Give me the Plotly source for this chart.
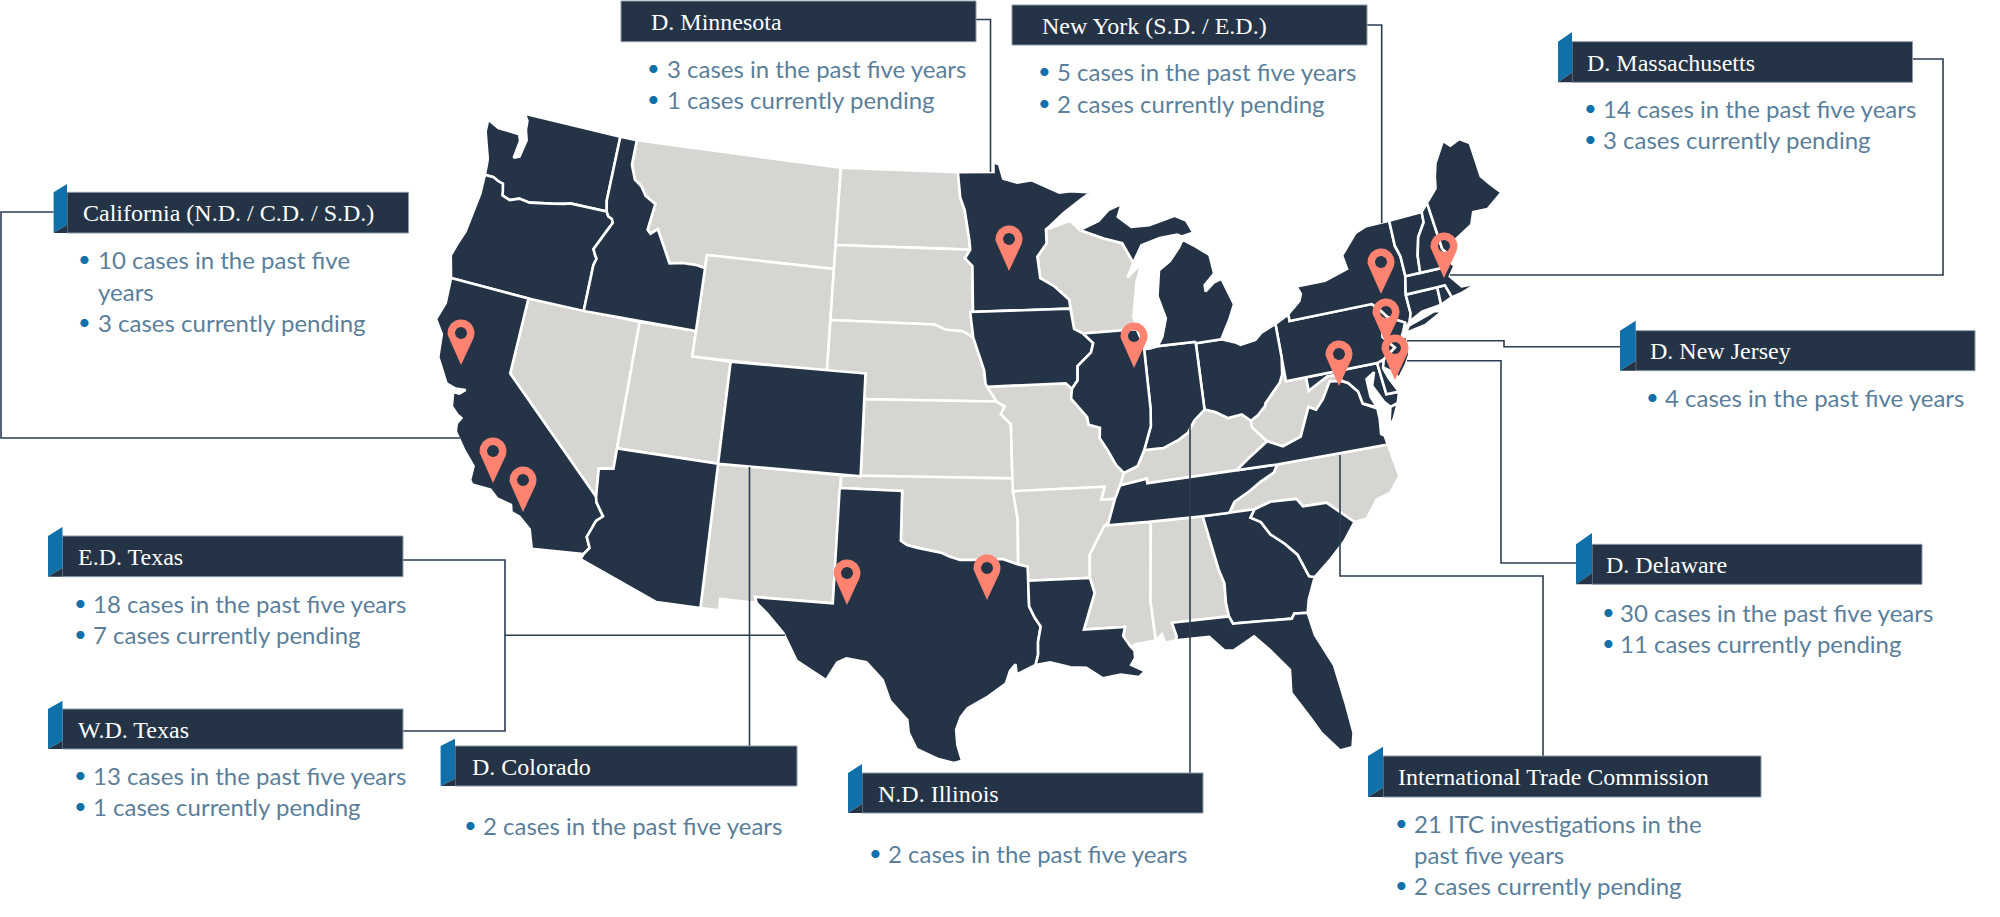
import math
import plotly.graph_objects as go

# ---- state outlines (lon, lat), read by geography ----
WA = [(-117.03,49),(-122.76,49),(-122.5,48.75),(-122.45,48.4),(-122.25,48.0),(-122.35,47.6),(-122.4,47.3),(-122.7,47.2),(-122.65,47.6),(-122.6,47.9),(-122.75,48.15),(-123.2,48.15),(-124.0,48.17),(-124.7,48.38),(-124.65,47.9),(-124.35,47.35),(-124.1,46.9),(-124.05,46.65),(-124.0,46.25),(-123.5,46.25),(-123.2,46.15),(-122.9,46.1),(-122.8,45.85),(-122.75,45.65),(-122.3,45.55),(-121.8,45.7),(-121.2,45.65),(-120.6,45.73),(-120.0,45.82),(-119.3,45.93),(-119.0,46.0),(-116.92,46.0),(-117.04,46.42)]
OR = [(-124.0,46.25),(-123.5,46.25),(-123.2,46.15),(-122.9,46.1),(-122.8,45.85),(-122.75,45.65),(-122.3,45.55),(-121.8,45.7),(-121.2,45.65),(-120.6,45.73),(-120.0,45.82),(-119.3,45.93),(-119.0,46.0),(-116.92,46.0),(-116.78,45.83),(-116.55,45.75),(-116.46,45.6),(-116.67,45.3),(-116.85,45.0),(-117.2,44.45),(-117.05,44.23),(-116.93,44.1),(-117.03,43.83),(-117.03,42.0),(-120,42),(-124.2,42.0),(-124.55,42.84),(-124.4,43.3),(-124.15,43.9),(-124.07,44.6),(-123.95,45.5)]
CA = [(-124.2,42),(-120,42),(-120,39),(-114.63,35.0),(-114.57,34.8),(-114.14,34.3),(-114.43,34.08),(-114.72,33.4),(-114.5,33.0),(-114.72,32.72),(-117.12,32.53),(-117.25,32.85),(-117.4,33.25),(-118.0,33.65),(-118.4,33.75),(-118.5,34.03),(-119.2,34.15),(-119.6,34.42),(-120.5,34.45),(-120.65,34.6),(-120.65,35.15),(-121.3,35.7),(-121.9,36.3),(-121.95,36.6),(-121.8,36.85),(-122.05,36.95),(-122.4,37.2),(-122.52,37.75),(-122.2,37.75),(-121.95,37.95),(-122.45,37.9),(-122.95,38.0),(-123.7,38.9),(-123.85,39.8),(-124.35,40.3),(-124.1,41.0)]
NV = [(-120,42),(-114.04,42),(-114.05,37),(-114.05,36.2),(-114.75,36.1),(-114.63,35.0),(-120,39)]
AZ = [(-114.05,37),(-109.05,37),(-109.05,31.33),(-111.07,31.33),(-114.82,32.5),(-114.72,32.72),(-114.5,33.0),(-114.72,33.4),(-114.43,34.08),(-114.14,34.3),(-114.57,34.8),(-114.63,35.0),(-114.75,36.1),(-114.05,36.2)]
UT = [(-114.04,42),(-111.05,42),(-111.05,41),(-109.05,41),(-109.05,37),(-114.05,37)]
ID = [(-117.03,49),(-116.05,49),(-116.05,48.0),(-115.72,47.45),(-115.3,47.25),(-114.95,46.9),(-114.33,46.65),(-114.5,45.6),(-114.3,45.47),(-113.95,45.7),(-113.45,45.05),(-113.0,44.45),(-112.3,44.55),(-111.5,44.55),(-111.05,44.48),(-111.05,42),(-117.03,42),(-117.03,43.83),(-116.93,44.1),(-117.05,44.23),(-117.2,44.45),(-116.85,45.0),(-116.67,45.3),(-116.46,45.6),(-116.55,45.75),(-116.78,45.83),(-116.92,46.0),(-117.04,46.42)]
MT = [(-116.05,49),(-104.05,49),(-104.05,45),(-111.05,45),(-111.05,44.48),(-111.5,44.55),(-112.3,44.55),(-113.0,44.45),(-113.45,45.05),(-113.95,45.7),(-114.3,45.47),(-114.5,45.6),(-114.33,46.65),(-114.95,46.9),(-115.3,47.25),(-115.72,47.45),(-116.05,48.0)]
WY = [(-111.05,45),(-104.05,45),(-104.05,41),(-111.05,41)]
CO = [(-109.05,41),(-102.05,41),(-102.05,37),(-109.05,37)]
NM = [(-109.05,37),(-103.0,37),(-103.05,32),(-106.62,32),(-106.53,31.78),(-108.2,31.78),(-108.2,31.33),(-109.05,31.33)]
ND = [(-104.05,49),(-97.23,49),(-97.1,48.0),(-96.85,47.5),(-96.6,46.3),(-96.56,45.94),(-104.05,45.94)]
SD = [(-104.05,45.94),(-96.56,45.94),(-96.85,45.6),(-96.45,45.3),(-96.45,43.5),(-96.6,43.5),(-96.45,42.5),(-97.0,42.75),(-97.9,42.8),(-98.5,43.0),(-104.05,43)]
NE = [(-104.05,43),(-98.5,43),(-97.9,42.8),(-97,42.75),(-96.45,42.5),(-96.1,41.7),(-95.9,41.2),(-95.85,40.7),(-95.3,40.0),(-102.05,40),(-102.05,41),(-104.05,41)]
KS = [(-102.05,40),(-95.3,40),(-94.9,39.8),(-95.1,39.5),(-94.61,39.1),(-94.62,37),(-102.05,37)]
OK = [(-103,37),(-94.62,37),(-94.43,35.4),(-94.48,33.64),(-95.2,33.87),(-96.0,33.85),(-96.6,33.85),(-97.2,33.85),(-97.7,33.98),(-98.1,34.13),(-99.2,34.3),(-99.7,34.4),(-100,34.56),(-100,36.5),(-103,36.5)]
TX = [(-103.04,36.5),(-100,36.5),(-100,34.56),(-99.7,34.4),(-99.2,34.3),(-98.1,34.13),(-97.7,33.98),(-97.2,33.85),(-96.6,33.85),(-96,33.85),(-95.2,33.87),(-94.48,33.64),(-94.04,33.55),(-94.04,33.0),(-94.04,32),(-93.8,31.55),(-93.55,31.2),(-93.7,30.6),(-93.72,30.1),(-93.85,29.7),(-94.7,29.35),(-94.75,29.75),(-95.0,29.5),(-95.2,29.0),(-96.0,28.5),(-96.9,28.05),(-97.2,27.7),(-97.4,27.2),(-97.35,26.6),(-97.15,25.97),(-97.5,25.88),(-98.2,26.05),(-99.1,26.42),(-99.45,27.05),(-99.52,27.55),(-100.3,28.3),(-100.65,29.1),(-101.4,29.77),(-102.3,29.88),(-102.7,29.7),(-103.15,28.98),(-104.5,29.65),(-105.2,30.7),(-106.0,31.4),(-106.53,31.78),(-106.62,32),(-103.05,32)]
MN = [(-97.23,49),(-95.15,49),(-95.15,49.38),(-94.82,49.3),(-94.6,48.72),(-93.8,48.55),(-92.95,48.62),(-92.0,48.3),(-91.4,48.07),(-90.75,48.1),(-89.6,48.0),(-90.3,47.7),(-91.25,47.25),(-92.1,46.75),(-92.29,46.66),(-92.3,46.1),(-92.85,45.6),(-92.75,44.75),(-92.0,44.4),(-91.25,43.85),(-91.22,43.5),(-96.45,43.5),(-96.45,45.3),(-96.85,45.6),(-96.56,45.94),(-96.6,46.3),(-96.85,47.5),(-97.1,48)]
IA = [(-96.6,43.5),(-91.22,43.5),(-91.1,42.7),(-90.64,42.5),(-90.15,42.1),(-90.3,41.75),(-91.05,41.25),(-91.1,40.7),(-91.42,40.38),(-91.73,40.61),(-95.77,40.58),(-95.85,40.7),(-95.9,41.2),(-96.1,41.7),(-96.45,42.5)]
MO = [(-95.77,40.58),(-91.73,40.61),(-91.42,40.38),(-91.5,40.0),(-90.75,39.25),(-90.7,38.95),(-90.15,38.8),(-90.2,38.4),(-89.85,37.9),(-89.5,37.3),(-89.15,36.98),(-89.4,36.5),(-89.7,36.0),(-90.37,36.0),(-90.15,36.5),(-94.62,36.5),(-94.62,37),(-94.61,39.1),(-95.1,39.5),(-94.9,39.8),(-95.3,40)]
AR = [(-94.62,36.5),(-90.15,36.5),(-90.37,36),(-89.7,36),(-90.1,35.1),(-90.6,34.6),(-91.1,33.9),(-91.17,33.0),(-94.04,33.0),(-94.04,33.55),(-94.48,33.64),(-94.43,35.4)]
LA = [(-94.04,33),(-91.17,33),(-91.0,32.4),(-91.6,31.0),(-89.73,31.0),(-89.85,30.65),(-89.55,30.2),(-89.4,30.05),(-89.4,29.75),(-89.6,29.5),(-89.0,29.2),(-89.3,29.0),(-90.1,29.15),(-90.9,29.05),(-91.6,29.5),(-92.3,29.55),(-93.2,29.78),(-93.85,29.7),(-93.72,30.1),(-93.7,30.6),(-93.55,31.2),(-93.8,31.55),(-94.04,32)]
MS = [(-91.17,33),(-91.1,33.9),(-90.6,34.6),(-90.3,35.0),(-88.2,35.0),(-88.1,34.9),(-88.47,31.9),(-88.4,30.37),(-89.3,30.3),(-89.55,30.2),(-89.85,30.65),(-89.73,31),(-91.6,31),(-91,32.4)]
AL = [(-88.2,35),(-85.6,35),(-85.18,32.87),(-85.0,32.3),(-85.05,31.55),(-85.0,31.0),(-87.6,31.0),(-87.45,30.45),(-87.5,30.3),(-88.0,30.25),(-88.1,30.6),(-88.4,30.37),(-88.47,31.9),(-88.1,34.9)]
GA = [(-85.6,35),(-84.32,35),(-83.1,35),(-83.35,34.7),(-82.9,34.47),(-82.55,33.95),(-81.95,33.5),(-81.45,33.0),(-81.1,32.1),(-80.85,32.03),(-81.3,31.2),(-81.45,30.7),(-82.05,30.75),(-82.2,30.57),(-84.86,30.7),(-85.0,31.0),(-85.05,31.55),(-85,32.3),(-85.18,32.87)]
FL = [(-87.6,31),(-85,31),(-84.86,30.7),(-82.2,30.57),(-82.05,30.75),(-81.45,30.7),(-81.3,29.8),(-80.7,28.5),(-80.5,26.9),(-80.4,25.75),(-80.55,25.2),(-81.1,25.15),(-81.75,25.95),(-82.1,26.6),(-82.75,27.7),(-82.65,28.6),(-83.4,29.5),(-84.0,30.1),(-85.0,29.65),(-85.4,29.7),(-86.0,30.3),(-87.5,30.3),(-87.45,30.45)]
SC = [(-83.1,35),(-82.3,35.2),(-81.05,35.15),(-80.8,34.82),(-79.67,34.8),(-78.55,33.86),(-79.2,33.2),(-80.0,32.6),(-80.85,32.03),(-81.1,32.1),(-81.45,33),(-81.95,33.5),(-82.55,33.95),(-82.9,34.47),(-83.35,34.7)]
NC = [(-84.32,35),(-83.1,35),(-82.3,35.2),(-81.05,35.15),(-80.8,34.82),(-79.67,34.8),(-78.55,33.86),(-77.95,33.9),(-77.3,34.55),(-76.6,34.7),(-76.0,35.25),(-76.2,36.55),(-81.68,36.59),(-81.9,36.3),(-82.6,36.03),(-83.2,35.73),(-84.0,35.4)]
TN = [(-90.3,35),(-88.2,35),(-85.6,35),(-84.32,35),(-84.0,35.4),(-83.2,35.73),(-82.6,36.03),(-81.9,36.3),(-81.68,36.59),(-83.68,36.6),(-88.07,36.5),(-88.07,36.68),(-89.4,36.5),(-89.7,36),(-90.1,35.1)]
KY = [(-89.4,36.5),(-88.07,36.68),(-88.07,36.5),(-83.68,36.6),(-82.9,37.05),(-81.97,37.54),(-82.6,38.17),(-82.6,38.42),(-83.0,38.72),(-83.7,38.65),(-84.3,38.95),(-84.82,39.1),(-85.4,38.73),(-85.8,38.28),(-86.3,38.05),(-87.1,37.8),(-88.05,37.8),(-88.45,37.2),(-89.15,36.98)]
VA = [(-83.68,36.6),(-81.68,36.59),(-76.2,36.55),(-76.25,36.9),(-76.4,37.0),(-76.3,37.6),(-76.3,38.0),(-76.95,38.3),(-77.05,38.8),(-77.45,39.2),(-77.72,39.32),(-78.35,39.4),(-78.87,38.77),(-79.3,38.42),(-79.65,38.58),(-80.3,37.5),(-81.25,37.25),(-81.97,37.54),(-82.9,37.05)]
VA_SHORE = [(-75.95,37.15),(-75.65,37.95),(-75.25,38.03),(-75.6,37.5)]
WV = [(-81.97,37.54),(-81.25,37.25),(-80.3,37.5),(-79.65,38.58),(-79.3,38.42),(-78.87,38.77),(-78.35,39.4),(-77.72,39.32),(-77.83,39.6),(-78.4,39.62),(-79.48,39.2),(-79.48,39.72),(-80.52,39.72),(-80.52,40.64),(-80.65,40.0),(-80.85,39.7),(-81.75,39.0),(-81.75,38.93),(-82.2,38.6),(-82.6,38.42),(-82.6,38.17)]
MD = [(-79.48,39.72),(-75.79,39.72),(-75.7,38.46),(-75.05,38.45),(-75.25,38.03),(-75.65,37.95),(-75.9,38.2),(-76.3,38.9),(-76.05,39.4),(-76.5,39.2),(-76.5,38.5),(-76.3,38.05),(-76.95,38.3),(-77.05,38.8),(-77.45,39.2),(-77.72,39.32),(-77.83,39.6),(-78.4,39.62),(-79.48,39.2)]
DE = [(-75.79,39.72),(-75.42,39.8),(-75.55,39.45),(-75.4,39.05),(-75.05,38.45),(-75.7,38.46)]
PA = [(-80.52,41.98),(-79.76,42.27),(-79.76,42.0),(-75.35,42.0),(-75.05,41.75),(-74.7,41.36),(-75.13,40.98),(-75.2,40.65),(-74.72,40.15),(-75.42,39.8),(-75.79,39.72),(-80.52,39.72)]
NY = [(-79.76,42.27),(-79.05,42.7),(-78.9,42.95),(-79.05,43.27),(-77.5,43.27),(-76.2,43.55),(-76.3,44.1),(-75.3,44.85),(-74.7,45.0),(-73.35,45.0),(-73.4,44.0),(-73.25,43.55),(-73.27,42.75),(-73.5,42.05),(-73.5,41.3),(-73.65,41.0),(-73.9,40.8),(-74.0,40.7),(-73.9,41.0),(-74.7,41.36),(-75.05,41.75),(-75.35,42),(-79.76,42.0)]
LONG_ISLAND = [(-74.0,40.6),(-73.75,40.85),(-72.3,41.15),(-71.87,41.07),(-72.9,40.72)]
NJ = [(-74.7,41.36),(-73.9,41.0),(-74.1,40.7),(-74.25,40.5),(-74.0,40.45),(-74.1,39.75),(-74.4,39.4),(-74.9,38.95),(-75.05,39.2),(-75.55,39.5),(-75.42,39.8),(-74.72,40.15),(-75.2,40.65),(-75.13,40.98)]
CT = [(-73.5,42.05),(-71.8,42.02),(-71.85,41.32),(-72.9,41.25),(-73.65,41.0),(-73.5,41.3)]
RI = [(-71.8,42.02),(-71.38,42.02),(-71.2,41.5),(-71.85,41.32)]
MA = [(-73.5,42.05),(-73.27,42.75),(-72.46,42.73),(-71.3,42.7),(-70.82,42.87),(-70.6,42.65),(-71.0,42.3),(-70.65,41.95),(-70.55,41.8),(-70.1,41.77),(-70.0,42.05),(-69.95,41.7),(-70.65,41.55),(-71.12,41.5),(-71.2,41.5),(-71.38,42.02),(-71.8,42.02)]
VT = [(-73.35,45),(-71.5,45.01),(-71.55,44.6),(-72.05,44.1),(-72.35,43.4),(-72.46,42.73),(-73.27,42.75),(-73.25,43.55),(-73.4,44.0)]
NH = [(-71.5,45.01),(-71.08,45.3),(-70.98,43.4),(-70.7,43.08),(-70.82,42.87),(-71.3,42.7),(-72.46,42.73),(-72.35,43.4),(-72.05,44.1),(-71.55,44.6)]
ME = [(-71.08,45.3),(-70.4,45.75),(-70.25,46.2),(-70.0,46.7),(-69.23,47.46),(-68.9,47.2),(-68.3,47.35),(-67.8,47.07),(-67.8,45.7),(-67.45,45.3),(-67.0,44.85),(-68.0,44.4),(-68.8,44.45),(-69.1,44.0),(-70.2,43.6),(-70.7,43.08),(-70.98,43.4)]
OH = [(-84.82,39.1),(-84.3,38.95),(-83.7,38.65),(-83,38.72),(-82.6,38.42),(-82.2,38.6),(-81.75,38.93),(-81.75,39.0),(-80.85,39.7),(-80.65,40.0),(-80.52,40.64),(-80.52,41.98),(-81.3,41.75),(-81.7,41.5),(-82.5,41.4),(-82.7,41.5),(-83.45,41.72),(-84.8,41.7)]
IN = [(-84.82,39.1),(-84.8,41.7),(-84.8,41.76),(-86.8,41.76),(-87.2,41.7),(-87.52,41.7),(-87.52,39.35),(-87.6,38.7),(-88.05,37.8),(-87.1,37.8),(-86.3,38.05),(-85.8,38.28),(-85.4,38.73)]
IL = [(-90.64,42.5),(-87.8,42.5),(-87.6,42.05),(-87.52,41.7),(-87.52,39.35),(-87.6,38.7),(-88.05,37.8),(-88.45,37.2),(-89.15,36.98),(-89.5,37.3),(-89.85,37.9),(-90.2,38.4),(-90.15,38.8),(-90.7,38.95),(-90.75,39.25),(-91.5,40.0),(-91.42,40.38),(-91.1,40.7),(-91.05,41.25),(-90.3,41.75),(-90.15,42.1)]
WI = [(-92.29,46.66),(-92.0,46.7),(-90.9,46.95),(-90.4,46.55),(-89.1,46.15),(-88.1,45.9),(-87.6,45.1),(-88.0,44.55),(-87.4,44.9),(-87.05,45.25),(-87.55,44.3),(-87.9,43.0),(-87.8,42.5),(-90.64,42.5),(-91.1,42.7),(-91.22,43.5),(-91.25,43.85),(-92,44.4),(-92.75,44.75),(-92.85,45.6),(-92.3,46.1)]
MI_LOWER = [(-84.8,41.76),(-86.8,41.76),(-86.5,42.1),(-86.2,42.8),(-86.5,43.7),(-86.25,44.7),(-85.6,45.0),(-85.0,45.5),(-84.75,45.78),(-84.1,45.45),(-83.4,45.05),(-83.3,44.3),(-83.9,43.9),(-83.9,43.65),(-83.4,43.95),(-82.95,44.05),(-82.5,43.0),(-82.9,42.4),(-83.15,42.1),(-83.45,41.72),(-84.8,41.7)]
MI_UPPER = [(-90.4,46.55),(-89.1,46.15),(-88.1,45.9),(-87.6,45.1),(-87.05,45.75),(-86.0,45.95),(-85.0,46.0),(-84.75,45.9),(-84.1,46.0),(-84.4,46.5),(-85.0,46.75),(-86.5,46.5),(-87.5,46.5),(-88.2,46.95),(-87.9,47.45),(-88.7,47.25),(-89.3,46.85)]

DARK_STATES = [WA,OR,CA,AZ,ID,CO,TX,MN,IA,LA,GA,FL,SC,TN,VA,VA_SHORE,MD,DE,PA,NY,LONG_ISLAND,NJ,CT,RI,MA,VT,NH,ME,OH,IN,IL,MI_LOWER,MI_UPPER]
LIGHT_STATES = [NV,UT,MT,WY,NM,ND,SD,NE,KS,OK,MO,AR,MS,AL,NC,KY,WV,WI]

# ---- callouts ----
BOX_TITLES = ["California (N.D. / C.D. / S.D.)","D. Minnesota","New York (S.D. / E.D.)","D. Massachusetts","D. New Jersey","D. Delaware","International Trade Commission","E.D. Texas","W.D. Texas","D. Colorado","N.D. Illinois"]
BOX_LINES = [
    ["10 cases in the past five", "years", "3 cases currently pending"],
    ["3 cases in the past five years", "1 cases currently pending"],
    ["5 cases in the past five years", "2 cases currently pending"],
    ["14 cases in the past five years", "3 cases currently pending"],
    ["4 cases in the past five years"],
    ["30 cases in the past five years", "11 cases currently pending"],
    ["21 ITC investigations in the", "past five years", "2 cases currently pending"],
    ["18 cases in the past five years", "7 cases currently pending"],
    ["13 cases in the past five years", "1 cases currently pending"],
    ["2 cases in the past five years"],
    ["2 cases in the past five years"],
]
BOX_BULLETED = [[1,0,1],[1,1],[1,1],[1,1],[1],[1,1],[1,0,1],[1,1],[1,1],[1],[1]]
BOX_LEFT = [67,621,1012,1572,1635.7,1592,1383,62.5,62.5,455,862]
BOX_RIGHT = [408.5,976,1367,1912.5,1975,1922,1761,403,403,797,1203]
BOX_TOP = [192.3,1,5,41.7,330.7,544.3,756,536,709,746,773]
BOX_BOTTOM = [233,41.7,45,82.3,370.7,584.3,797,576.7,749,786,813]
TAB_LEFT = [53.6,None,None,1558,1620,1576,1368,48,48,440.6,848]
TAB_TOP = [184,None,None,32,320.7,533,746.7,527,700.7,738.7,764]
TITLE_X = [83.5,652,1042.8,1588,1651,1607,1399,78.6,78.6,473,879]
BULLET_X = [83.5,652,1043,1589,1651,1607,1400,79.5,79.5,469,874.5]
TEXT_X = [99,667.8,1057.5,1603.6,1666,1621,1415,94,94,484,889]
TEXT_Y = [[260,292,323],[69,100],[72.7,104],[109,140],[398],[613,644],[824,855.7,886.7],[604,635],[776.7,807.7],[826.7],[854]]

CONNECTORS = [
    [(53.6,212),(1,212),(1,438),(460,438)],
    [(976,19.5),(990.5,19.5),(990.5,172)],
    [(1367,25),(1381.7,25),(1381.7,223)],
    [(1912,59),(1943,59),(1943,275),(1450,275)],
    [(1620,346.7),(1504,346.7),(1504,340.7),(1407,340.7)],
    [(1576,563),(1501,563),(1501,360.7),(1407,360.7)],
    [(1543,756),(1543,576),(1340,576),(1340,455)],
    [(403,560),(505,560),(505,731),(403,731)],
    [(505,635.3),(785,635.3)],
    [(749.5,746),(749.5,467)],
    [(1190,773),(1190,425)],
]

PIN_TIP_X = [461,493,523,847,987,1009,1134,1381,1386,1395,1339,1444]
PIN_TIP_Y = [365,483,512,605,600,271,368,294,344,380,386,278]

DARK = "#243446"
LIGHT = "#d6d5d1"
TAB_BLUE = "#0f70aa"
BULLET_BLUE = "#0f70aa"
BODY = "#5b7f9b"
PIN = "#ff8370"
LINE = "#2b3d50"

# Albers equal-area conic, then fitted to the page
def project(lon, lat):
    p1, p2, p0 = map(math.radians, (29.5, 45.5, 37.5))
    n = (math.sin(p1) + math.sin(p2)) / 2
    c = math.cos(p1) ** 2 + 2 * n * math.sin(p1)
    rho0 = math.sqrt(c - 2 * n * math.sin(p0)) / n
    rho = math.sqrt(c - 2 * n * math.sin(math.radians(lat))) / n
    th = n * math.radians(lon + 96)
    X, Y = rho * math.sin(th), rho0 - rho * math.cos(th)
    return 984 + 1480 * X - 25 * Y, 466 - 1460 * Y - 16 * X

fig = go.Figure()

def add_state(poly, color):
    pts = [project(*p) for p in poly + poly[:1]]
    fig.add_trace(go.Scatter(x=[p[0] for p in pts], y=[p[1] for p in pts], mode="lines",
                             fill="toself", fillcolor=color,
                             line=dict(color="white", width=2.6), hoverinfo="skip", showlegend=False))

for poly in LIGHT_STATES:
    add_state(poly, LIGHT)
for poly in DARK_STATES:
    add_state(poly, DARK)

# connectors
cx, cy = [], []
for path in CONNECTORS:
    cx += [p[0] for p in path] + [None]
    cy += [p[1] for p in path] + [None]
fig.add_trace(go.Scatter(x=cx, y=cy, mode="lines", line=dict(color=LINE, width=1.6),
                         hoverinfo="skip", showlegend=False))

# pins: teardrop with a real hole
px, py = [], []
R, D, HOLE = 13.5, 32, 6
alpha = math.acos(R / D)
for tx, ty in zip(PIN_TIP_X, PIN_TIP_Y):
    cxp, cyp = tx, ty - D
    start = math.pi / 2 + alpha
    sweep = 2 * math.pi - 2 * alpha
    outer = [(tx, ty)]
    for i in range(41):
        a = start + sweep * i / 40
        outer.append((cxp + R * math.cos(a), cyp + R * math.sin(a)))
    outer.append((tx, ty))
    inner = [(cxp + HOLE * math.cos(-2 * math.pi * i / 24), cyp + HOLE * math.sin(-2 * math.pi * i / 24)) for i in range(25)]
    px += [p[0] for p in outer] + [None] + [p[0] for p in inner] + [None]
    py += [p[1] for p in outer] + [None] + [p[1] for p in inner] + [None]
fig.add_trace(go.Scatter(x=px, y=py, mode="lines", fill="toself", fillcolor=PIN,
                         line=dict(width=0, color=PIN), hoverinfo="skip", showlegend=False))

# boxes
shapes, annos = [], []
for i, title in enumerate(BOX_TITLES):
    shapes.append(dict(type="rect", xref="x", yref="y", x0=BOX_LEFT[i], x1=BOX_RIGHT[i],
                       y0=BOX_TOP[i], y1=BOX_BOTTOM[i], fillcolor=DARK, line=dict(width=1, color="#8b98a6")))
    if TAB_LEFT[i] is not None:
        l, r, t, b = TAB_LEFT[i], BOX_LEFT[i], BOX_TOP[i], BOX_BOTTOM[i]
        tt = TAB_TOP[i]
        shapes.append(dict(type="path", xref="x", yref="y",
                           path=f"M{l},{t} L{r},{tt} L{r},{b - (t - tt)} L{l},{b} Z",
                           fillcolor=TAB_BLUE, line=dict(width=0)))
        shapes.append(dict(type="path", xref="x", yref="y",
                           path=f"M{l},{b} L{r},{b - (t - tt)} L{r},{b} Z",
                           fillcolor=DARK, line=dict(width=0)))
    annos.append(dict(x=TITLE_X[i] - 3, y=(BOX_TOP[i] + BOX_BOTTOM[i]) / 2 + 0.5, text=title, xref="x", yref="y",
                      xanchor="left", yanchor="middle", showarrow=False,
                      font=dict(family="Liberation Serif", size=24, color="white")))
    for line, yy, b in zip(BOX_LINES[i], TEXT_Y[i], BOX_BULLETED[i]):
        annos.append(dict(x=TEXT_X[i] - 3, y=yy - 1, text=line, xref="x", yref="y", xanchor="left", yanchor="middle",
                          showarrow=False, font=dict(family="Lato", size=24, color=BODY)))
        if b:
            annos.append(dict(x=BULLET_X[i] + 1, y=yy - 2, text="•", xref="x", yref="y", xanchor="center", yanchor="middle",
                              showarrow=False, font=dict(family="Lato", size=22, color=BULLET_BLUE)))

fig.update_layout(width=2000, height=917, margin=dict(l=0, r=0, t=0, b=0), paper_bgcolor="white", plot_bgcolor="white",
                  showlegend=False, shapes=shapes, annotations=annos,
                  xaxis=dict(range=[0, 2000], visible=False, fixedrange=True),
                  yaxis=dict(range=[917, 0], visible=False, fixedrange=True))
fig.write_html("out.html", config={"displayModeBar": False},
               post_script="document.body.style.margin='0';document.documentElement.style.overflow='hidden';")
